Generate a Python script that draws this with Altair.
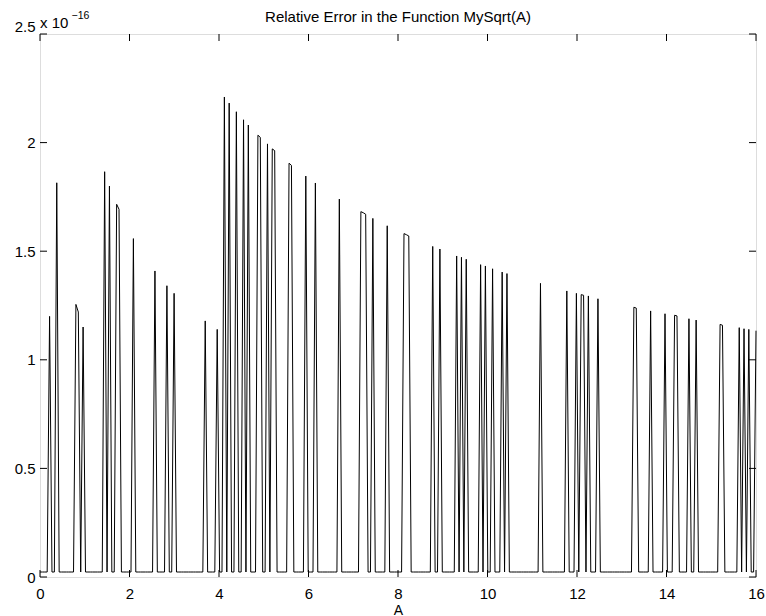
import altair as alt
import numpy as np
import pandas as pd

FONT = "Liberation Sans"

# Sampling grid of A and the relative error (in units of 1e-16)
N_SAMPLES = 300
A_MAX = 16
ERR_FLOOR = 0.023

# sample indices where MySqrt(A) differs from sqrt(A), and the error there
spike_idx = [4, 7, 15, 16, 18, 27, 29, 32, 33, 39, 48, 53, 56, 69, 74,
             77, 79, 82, 85, 87, 91, 92, 95, 97, 98, 104, 105, 111, 115,
             125, 134, 135, 136, 139, 145, 152, 153, 154, 164, 167, 174,
             176, 178, 184, 186, 189, 193, 195, 209, 220, 224, 226, 227,
             229, 233, 248, 249, 255, 261, 265, 266, 271, 274, 284, 285,
             292, 294, 296, 299]
spike_err = [1.200, 1.815, 1.255, 1.220, 1.151, 1.866, 1.800, 1.716, 1.693,
             1.558, 1.409, 1.341, 1.306, 1.179, 1.140,
             2.210, 2.182, 2.142, 2.105, 2.081, 2.034, 2.024, 1.994, 1.971,
             1.963, 1.905, 1.895, 1.846, 1.814,
             1.740, 1.682, 1.677, 1.670, 1.651, 1.617, 1.581, 1.576, 1.570,
             1.522, 1.510, 1.478,
             1.472, 1.463, 1.438, 1.432, 1.419, 1.404, 1.397, 1.352, 1.317,
             1.306, 1.300, 1.297,
             1.294, 1.281, 1.242, 1.238, 1.225, 1.212, 1.205, 1.202, 1.189,
             1.183, 1.163, 1.159,
             1.148, 1.143, 1.140, 1.134]

x_ticks = [0, 2, 4, 6, 8, 10, 12, 14, 16]
y_ticks = [0, 0.5, 1, 1.5, 2, 2.5]

a = np.linspace(0, A_MAX, N_SAMPLES)
err = np.full(N_SAMPLES, ERR_FLOOR)
err[spike_idx] = spike_err
df = pd.DataFrame({"A": a, "err": err})

W, H = 716, 543
TICK = 7

x_scale = alt.Scale(domain=[0, 16], nice=False, zero=False)
y_scale = alt.Scale(domain=[0, 2.5], nice=False)

x_axis = alt.Axis(values=x_ticks, title="A", labelFlush=False, ticks=False,
                  domain=False, grid=False, labelPadding=9,
                  labelFont=FONT, labelFontSize=15, labelColor="black",
                  titleFont=FONT, titleFontSize=14, titleFontWeight="normal",
                  titleColor="black", titleBaseline="alphabetic",
                  titleY=37.5)
y_axis = alt.Axis(values=y_ticks, title=None, format="~g", ticks=False,
                  domain=False, grid=False, labelPadding=5,
                  labelFont=FONT, labelFontSize=15, labelColor="black",
                  labelBaseline={"condition": {"test": "datum.value == 2.5",
                                               "value": "bottom"},
                                 "value": "middle"})

line = alt.Chart(df).mark_line(color="black", strokeWidth=1).encode(
    x=alt.X("A:Q", scale=x_scale, axis=x_axis),
    y=alt.Y("err:Q", scale=y_scale, axis=y_axis),
)

# inward tick marks on all four sides of the box
xt = pd.DataFrame({"A": x_ticks})
yt = pd.DataFrame({"err": y_ticks})
rule = dict(color="black", strokeWidth=1)
bottom_ticks = alt.Chart(xt).mark_rule(**rule).encode(
    x=alt.X("A:Q", scale=x_scale, axis=x_axis),
    y=alt.value(H), y2=alt.value(H - TICK))
top_ticks = alt.Chart(xt).mark_rule(**rule).encode(
    x=alt.X("A:Q", scale=x_scale, axis=x_axis),
    y=alt.value(0), y2=alt.value(TICK))
left_ticks = alt.Chart(yt).mark_rule(**rule).encode(
    y=alt.Y("err:Q", scale=y_scale, axis=y_axis),
    x=alt.value(0), x2=alt.value(TICK))
right_ticks = alt.Chart(yt).mark_rule(**rule).encode(
    y=alt.Y("err:Q", scale=y_scale, axis=y_axis),
    x=alt.value(W - TICK), x2=alt.value(W))

# exponent note above the y axis: "x 10^-16"
exp_base = alt.Chart(pd.DataFrame({"t": ["x 10"]})).mark_text(
    align="left", baseline="alphabetic", font=FONT, fontSize=15, color="black"
).encode(x=alt.value(0), y=alt.value(-6), text="t:N")
exp_pow = alt.Chart(pd.DataFrame({"t": ["\u221216"]})).mark_text(
    align="left", baseline="alphabetic", font=FONT, fontSize=10.5, color="black"
).encode(x=alt.value(31.5), y=alt.value(-15.5), text="t:N")

# chart title centred over the plot box
title = alt.Chart(pd.DataFrame({"t": ["Relative Error in the Function MySqrt(A)"]})).mark_text(
    align="center", baseline="alphabetic", font=FONT, fontSize=15, color="black"
).encode(x=alt.value(W / 2), y=alt.value(-12), text="t:N")

chart = alt.layer(
    line, bottom_ticks, top_ticks, left_ticks, right_ticks,
    exp_base, exp_pow, title
).properties(
    width=W, height=H,
    padding={"left": 40, "top": 34, "right": 10, "bottom": 39},
    autosize=alt.AutoSizeParams(type="none"),
).configure_view(stroke="black", strokeWidth=1).configure(background="white")

chart.save("out.html", embed_options={"renderer": "svg", "actions": False})
